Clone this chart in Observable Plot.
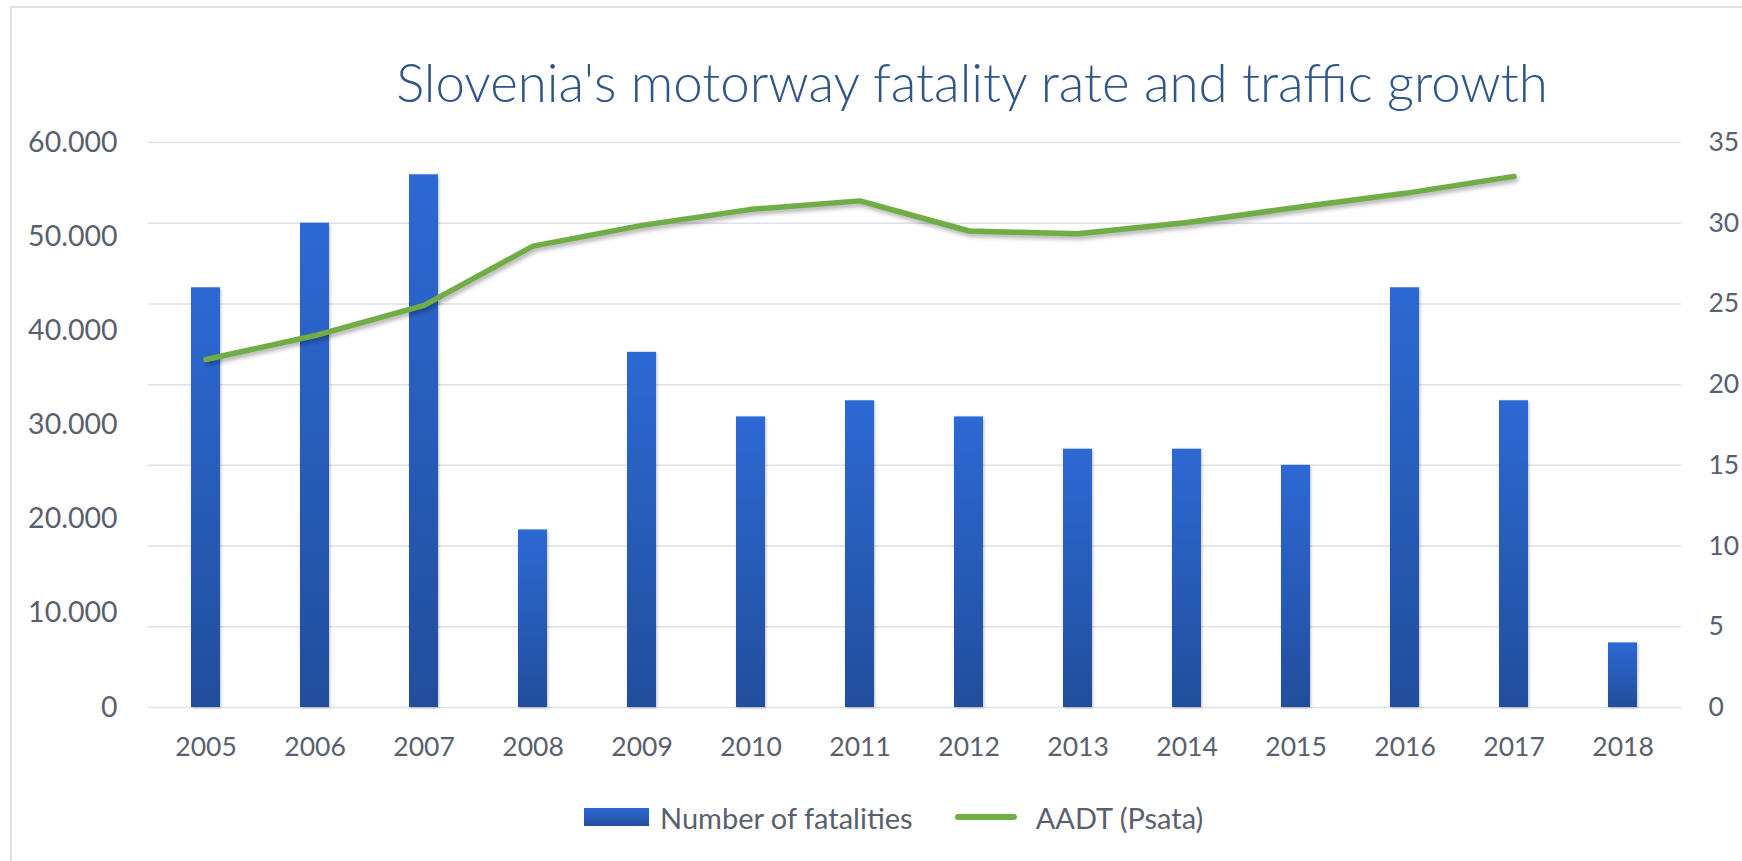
<!DOCTYPE html>
<html>
<head>
<meta charset="utf-8">
<script src="https://cdn.jsdelivr.net/npm/d3@7"></script>
<script src="https://cdn.jsdelivr.net/npm/@observablehq/plot@0.6"></script>
<style>
  html, body { margin: 0; padding: 0; background: #ffffff; width: 1742px; height: 861px; overflow: hidden; }
  body { position: relative; font-family: Lato, "Open Sans", sans-serif; }
  #frame { position: absolute; left: 10px; top: 6px; width: 1800px; height: 900px; border: 2px solid #dde2ea; box-sizing: border-box; }
  #title { position: absolute; left: 272px; top: 56px; width: 1400px; text-align: center; font-family: Lato, sans-serif; font-weight: 300; font-size: 52.8px; line-height: 1; color: #2f5589; white-space: nowrap; }
  #chart { position: absolute; left: 0; top: 120px; }
  #legend { position: absolute; left: 584px; top: 796px; height: 42px; display: flex; align-items: center; font-family: Lato, sans-serif; font-size: 29px; color: #595f6e; white-space: nowrap; }
  .sw-bar { width: 65px; height: 18px; background: linear-gradient(#2d69d4, #214e9c); margin-right: 11px; }
  .sw-line { width: 62px; height: 6px; border-radius: 3px; background: #70ad47; margin-left: 42px; margin-right: 19px; }
</style>
</head>
<body>
<div id="frame"></div>
<div id="title"></div>
<div id="chart"></div>
<div id="legend"></div>
<script>
const title = "Slovenia's motorway fatality rate and traffic growth";
const years = ["2005","2006","2007","2008","2009","2010","2011","2012","2013","2014","2015","2016","2017","2018"];
const fatalities = [26, 30, 33, 11, 22, 18, 19, 18, 16, 16, 15, 26, 19, 4];
const aadt = [36950, 39500, 42700, 49000, 51200, 52900, 53800, 50600, 50300, 51500, 53100, 54600, 56400, null];
const leftTicks = [0, 10000, 20000, 30000, 40000, 50000, 60000];
const rightTicks = [0, 5, 10, 15, 20, 25, 30, 35];
const seriesNames = ["Number of fatalities", "AADT (Psata)"];

const ratio = 35 / 60000; // left-axis (AADT) value -> right-axis scale units
const rows = years.map((y, i) => ({year: y, fat: fatalities[i], aadt: aadt[i]}));
const fmt = d3.formatLocale({decimal: ",", thousands: ".", grouping: [3], currency: ["", ""]}).format(",");

document.getElementById("title").textContent = title;

const plot = Plot.plot({
  width: 1742,
  height: 640,
  marginLeft: 148,
  marginRight: 61,
  marginTop: 22,
  marginBottom: 53,
  style: {fontFamily: "Lato, sans-serif", fontSize: "26.5px", color: "#595f6e", background: "transparent", overflow: "visible"},
  x: {domain: years, paddingInner: 0.73, paddingOuter: 0.365, axis: null},
  y: {domain: [0, 35], axis: null},
  marks: [
    Plot.gridY(rightTicks, {stroke: "#dde1e8", strokeOpacity: 1, strokeWidth: 1.5}),
    Plot.barY(rows, {x: "year", y: "fat", fill: "url(#barGrad)"}),
    Plot.lineY(rows.filter(d => d.aadt != null), {x: "year", y: d => d.aadt * ratio, stroke: "#70ad47", strokeWidth: 5.5, strokeLinejoin: "round", strokeLinecap: "round"}),
    Plot.axisX({tickSize: 0, tickPadding: 29.5, fill: "#595f6e", label: null}),
    Plot.axisY(leftTicks.map(v => v * ratio), {anchor: "left", tickSize: 0, tickPadding: 31, tickFormat: d => fmt(Math.round(d / ratio)), fill: "#595f6e", label: null, fontSize: 28.5}),
    Plot.axisY(rightTicks, {anchor: "right", tickSize: 0, tickPadding: 27, fill: "#595f6e", label: null})
  ]
});

const ns = "http://www.w3.org/2000/svg";
const defs = document.createElementNS(ns, "defs");
defs.innerHTML = '<linearGradient id="barGrad" x1="0" y1="0" x2="0" y2="1"><stop offset="0" stop-color="#2d69d4"/><stop offset="1" stop-color="#214e9c"/></linearGradient>';
plot.insertBefore(defs, plot.firstChild);
const barG = plot.querySelector('g[aria-label="bar"]');
if (barG) barG.style.filter = "drop-shadow(1px 1px 1.5px rgba(0,0,0,0.25))";
const lineG = plot.querySelector('g[aria-label="line"]');
if (lineG) lineG.style.filter = "drop-shadow(2px 3px 2px rgba(0,0,0,0.3))";

document.getElementById("chart").appendChild(plot);

const legend = document.getElementById("legend");
legend.innerHTML = '<div class="sw-bar"></div><span></span><div class="sw-line"></div><span></span>';
const spans = legend.querySelectorAll("span");
spans[0].textContent = seriesNames[0];
spans[1].textContent = seriesNames[1];
</script>
</body>
</html>
